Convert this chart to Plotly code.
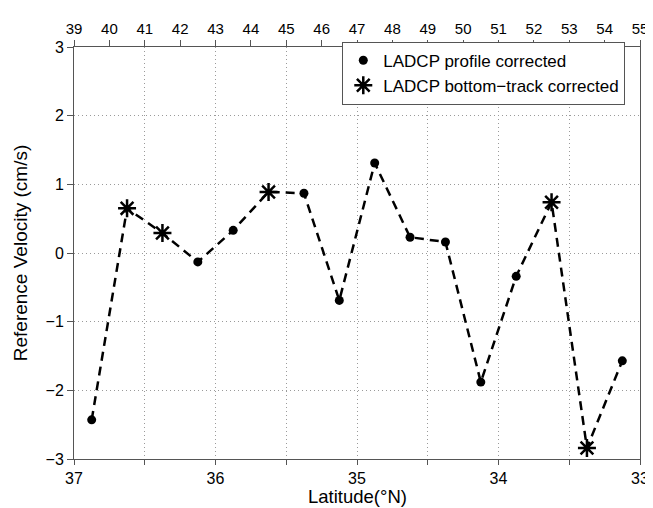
import plotly.graph_objects as go

# Data
lat = [36.875, 36.625, 36.375, 36.125, 35.875, 35.625, 35.375, 35.125,
       34.875, 34.625, 34.375, 34.125, 33.875, 33.625, 33.375, 33.125]
vel = [-2.43, 0.65, 0.29, -0.13, 0.33, 0.89, 0.87, -0.69,
       1.31, 0.23, 0.16, -1.88, -0.34, 0.74, -2.84, -1.57]
method = ["P", "B", "B", "P", "P", "B", "P", "P",
          "P", "P", "P", "P", "P", "B", "B", "P"]

stations = list(range(39, 56))
lat_ticks = [37, 36.5, 36, 35.5, 35, 34.5, 34, 33.5, 33]
lat_labels = ["37", "", "36", "", "35", "", "34", "", "33"]
vel_ticks = [-3, -2, -1, 0, 1, 2, 3]
vel_labels = ["\u22123", "\u22122", "\u22121", "0", "1", "2", "3"]

prof_lat = [a for a, m in zip(lat, method) if m == "P"]
prof_vel = [v for v, m in zip(vel, method) if m == "P"]
bt_lat = [a for a, m in zip(lat, method) if m == "B"]
bt_vel = [v for v, m in zip(vel, method) if m == "B"]

FONT = "Liberation Sans, Arial, Helvetica, sans-serif"
AX = "#555555"
GRID = "#9a9a9a"

fig = go.Figure()
fig.add_trace(go.Scatter(x=lat, y=vel, mode="lines",
                         line=dict(color="black", width=2.5, dash="9px,6px"),
                         showlegend=False, hoverinfo="skip"))
fig.add_trace(go.Scatter(x=prof_lat, y=prof_vel, mode="markers",
                         name="LADCP profile corrected",
                         marker=dict(symbol="circle", size=9, color="black")))
fig.add_trace(go.Scatter(x=bt_lat, y=bt_vel, mode="markers",
                         name="LADCP bottom\u2212track corrected",
                         marker=dict(symbol="asterisk-open", size=15, color="black",
                                     line=dict(color="black", width=2.5))))
# invisible trace to anchor the top (station) axis
fig.add_trace(go.Scatter(x=stations, y=[0] * len(stations), xaxis="x2",
                         mode="markers", marker=dict(opacity=0),
                         showlegend=False, hoverinfo="skip"))

fig.update_layout(
    width=653, height=508,
    # page body adds an 8px offset; margins compensate so the frame lands at 66..640 x 37..459
    margin=dict(l=58, r=21, t=29, b=57),
    paper_bgcolor="white", plot_bgcolor="white",
    font=dict(family=FONT, color="black", size=16),
    xaxis=dict(range=[37, 33], tickvals=lat_ticks, ticktext=lat_labels,
               ticks="outside", ticklen=5, tickcolor=AX, tickwidth=1,
               showline=True, linecolor=AX, linewidth=1, mirror=True,
               showgrid=True, gridcolor=GRID, griddash="1px,3px", gridwidth=1,
               zeroline=False, tickfont=dict(size=16)),
    xaxis2=dict(range=[39, 55], tickvals=stations, overlaying="x", side="top",
                ticks="outside", ticklen=6, tickcolor=AX, tickwidth=1,
                showline=False, showgrid=False, zeroline=False,
                tickfont=dict(size=15)),
    yaxis=dict(range=[-3, 3], tickvals=vel_ticks, ticktext=vel_labels,
               ticks="outside", ticklen=6, tickcolor=AX, tickwidth=1,
               showline=True, linecolor=AX, linewidth=1, mirror=True,
               showgrid=True, gridcolor=GRID, griddash="1px,3px", gridwidth=1,
               zeroline=False, tickfont=dict(size=16),
               title=dict(text="Reference Velocity (cm/s)", font=dict(size=19), standoff=12)),
    legend=dict(x=0.474, y=1.013, xanchor="left", yanchor="top",
                bgcolor="white", bordercolor=AX, borderwidth=1,
                font=dict(size=17), tracegroupgap=0, itemwidth=30),
    annotations=[dict(text="Latitude(\u00b0N)", xref="paper", yref="paper",
                      x=0.5, y=0, xanchor="center", yanchor="top", yshift=-26,
                      borderpad=0, showarrow=False, font=dict(size=18.5))],
)

fig.write_html("out.html")
